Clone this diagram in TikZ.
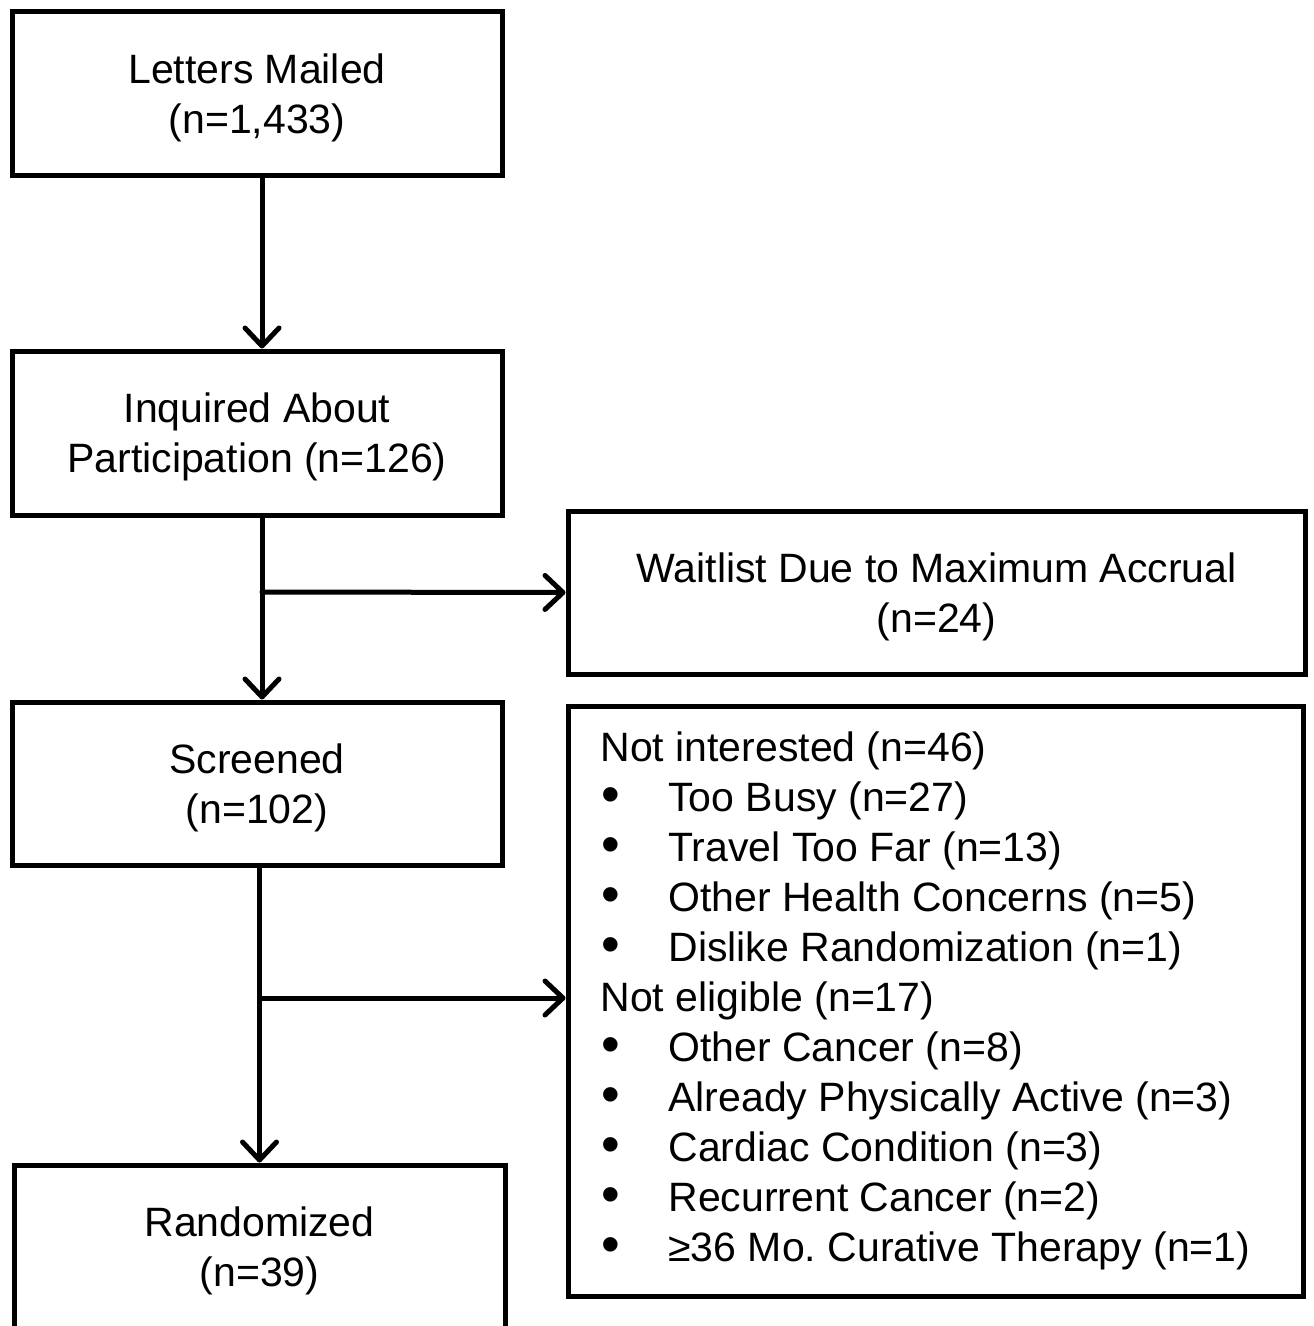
\documentclass[tikz,border=0pt]{standalone}
\usepackage{fontspec}
\setmainfont{Liberation Sans}
\usetikzlibrary{arrows.meta}
\frenchspacing
\tikzset{
  box/.style={draw=black, line width=2.5pt, fill=white, align=center, inner sep=0pt,
    font=\fontsize{20.5pt}{25pt}\selectfont},
  arr/.style={line width=2.5pt, line cap=round, -{Straight Barb[length=9pt,width=17pt,line width=2.5pt,round]}},
  listtext/.style={align=left, inner sep=0pt, anchor=west, font=\fontsize{20.5pt}{25pt}\selectfont}
}
\newcommand{\bul}{\makebox[34pt][l]{\hspace{0.5pt}\raisebox{-0.6pt}{\scalebox{1.3}{•}}}}
\newcommand{\tp}{\rule{0pt}{19pt}}
\begin{document}
\begin{tikzpicture}[x=0.5pt,y=-0.5pt]
\useasboundingbox (0,0) rectangle (1313,1326);
\clip (0,0) rectangle (1313,1326);
\node[box, minimum width=245pt, minimum height=82pt] (L) at (257,94) {\tp Letters Mailed\\(n=1,433)};
\node[box, minimum width=245pt, minimum height=82pt] (I) at (257,433) {\tp Inquired About\\Participation (n=126)};
\node[box, minimum width=245pt, minimum height=81.5pt] (S) at (257,783.5) {\tp Screened\\(n=102)};
\node[box, minimum width=245.5pt, minimum height=82pt] (R) at (259.5,1247) {\tp Randomized\\(n=39)};
\node[box, minimum width=368.5pt, minimum height=81.5pt] (W) at (936.5,592.5) {\tp Waitlist Due to Maximum Accrual\\(n=24)};
\node[draw=black, line width=2.5pt, minimum width=367.5pt, minimum height=295pt, inner sep=0pt] (D) at (935.5,1001) {};
\node[listtext] (DT) at (600,1001) {Not interested (n=46)\\
\bul Too Busy (n=27)\\
\bul Travel Too Far (n=13)\\
\bul Other Health Concerns (n=5)\\
\bul Dislike Randomization (n=1)\\
Not eligible (n=17)\\
\bul Other Cancer (n=8)\\
\bul Already Physically Active (n=3)\\
\bul Cardiac Condition (n=3)\\
\bul Recurrent Cancer (n=2)\\
\bul ≥36 Mo. Curative Therapy (n=1)};
\coordinate (b1) at (262,592);
\coordinate (b2) at (262,998);
\draw[arr] ([xshift=2.5pt]L.south) -- ([xshift=2.5pt]I.north);
\draw[arr] ([xshift=2.5pt]I.south) -- ([xshift=2.5pt]S.north);
\draw[arr] (b1) -- (W.west);
\draw[arr] (S.south -| R.north) -- (R.north);
\draw[arr] (b2) -- (D.west |- b2);
\end{tikzpicture}
\end{document}
